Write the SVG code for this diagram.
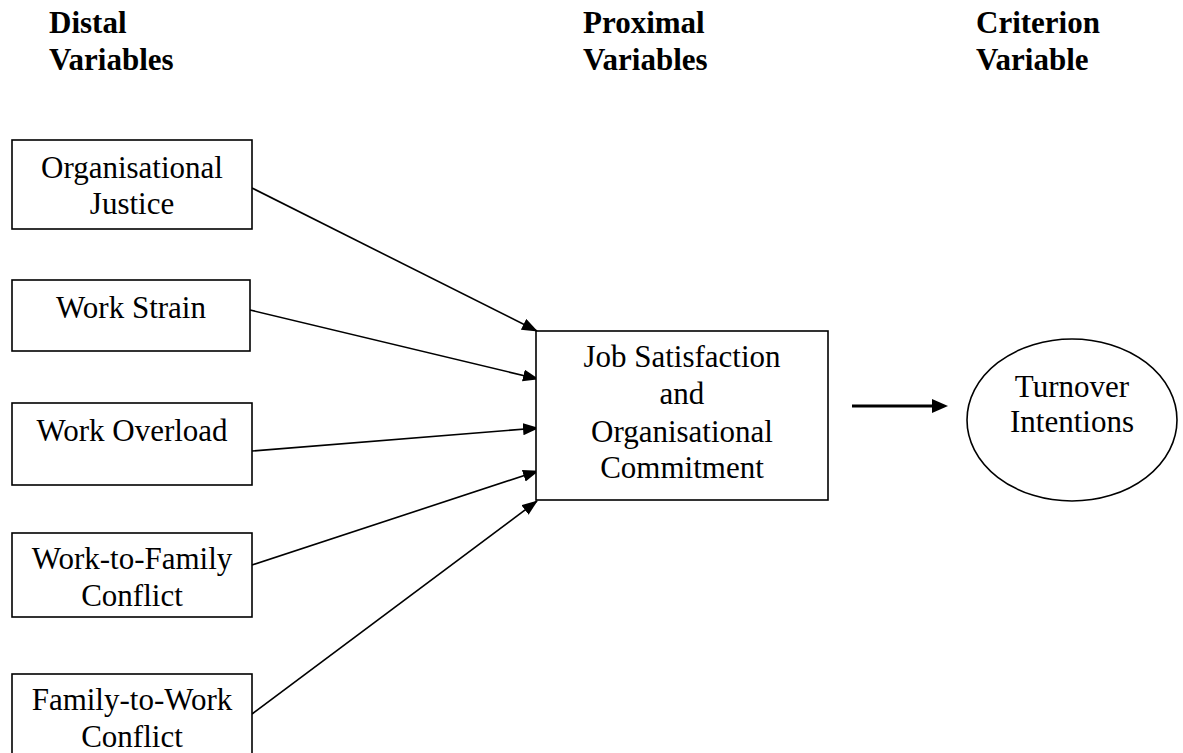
<svg xmlns="http://www.w3.org/2000/svg" width="1183" height="753" viewBox="0 0 1183 753">
<style>
.box{fill:#fff;stroke:#000;stroke-width:1.6}
.t{font-family:"Liberation Serif","Times New Roman",serif;font-size:31px;fill:#000;text-anchor:middle}
.h{font-family:"Liberation Serif","Times New Roman",serif;font-size:31px;font-weight:bold;fill:#000}
.c{stroke:#000;stroke-width:1.6;fill:none;marker-end:url(#ah)}
.big{stroke:#000;stroke-width:3;fill:none;marker-end:url(#bh)}
</style>
<defs>
<marker id="ah" markerUnits="userSpaceOnUse" markerWidth="18" markerHeight="14" refX="15" refY="6" orient="auto">
<path d="M0,0 L16,6 L0,12 z" fill="#000"/>
</marker>
<marker id="bh" markerUnits="userSpaceOnUse" markerWidth="18" markerHeight="16" refX="5" refY="7" orient="auto">
<path d="M0,0 L16,7 L0,14 z" fill="#000"/>
</marker>
</defs>
<rect width="1183" height="753" fill="#fff"/>
<g id="headers">
<text class="h" x="49" y="33">Distal</text>
<text class="h" x="49" y="70">Variables</text>
<text class="h" x="583" y="33">Proximal</text>
<text class="h" x="583" y="70">Variables</text>
<text class="h" x="976" y="33">Criterion</text>
<text class="h" x="976" y="70">Variable</text>
</g>
<g id="connectors">
<line class="c" x1="252" y1="188" x2="537" y2="331"/>
<line class="c" x1="250" y1="310" x2="538" y2="379"/>
<line class="c" x1="252" y1="451" x2="538" y2="428"/>
<line class="c" x1="252" y1="565" x2="538" y2="471"/>
<line class="c" x1="252" y1="714" x2="537" y2="501"/>
<line class="big" x1="852" y1="406" x2="937" y2="406"/>
</g>
<g id="n-justice">
<rect class="box" x="12" y="140" width="240" height="89"/>
<text class="t" x="132" y="178">Organisational</text>
<text class="t" x="132" y="214">Justice</text>
</g>
<g id="n-strain">
<rect class="box" x="12" y="280" width="238" height="71"/>
<text class="t" x="131" y="318">Work Strain</text>
</g>
<g id="n-overload">
<rect class="box" x="12" y="403" width="240" height="82"/>
<text class="t" x="132" y="441">Work Overload</text>
</g>
<g id="n-wfc">
<rect class="box" x="12" y="533" width="240" height="84"/>
<text class="t" x="132" y="569">Work-to-Family</text>
<text class="t" x="132" y="606">Conflict</text>
</g>
<g id="n-fwc">
<rect class="box" x="12" y="674" width="240" height="90"/>
<text class="t" x="132" y="710">Family-to-Work</text>
<text class="t" x="132" y="747">Conflict</text>
</g>
<g id="n-proximal">
<rect class="box" x="536" y="331" width="292" height="169"/>
<text class="t" x="682" y="367">Job Satisfaction</text>
<text class="t" x="682" y="404">and</text>
<text class="t" x="682" y="442">Organisational</text>
<text class="t" x="682" y="478">Commitment</text>
</g>
<g id="n-turnover">
<ellipse class="box" cx="1072" cy="420" rx="105" ry="81"/>
<text class="t" x="1072" y="397">Turnover</text>
<text class="t" x="1072" y="432">Intentions</text>
</g>
</svg>
